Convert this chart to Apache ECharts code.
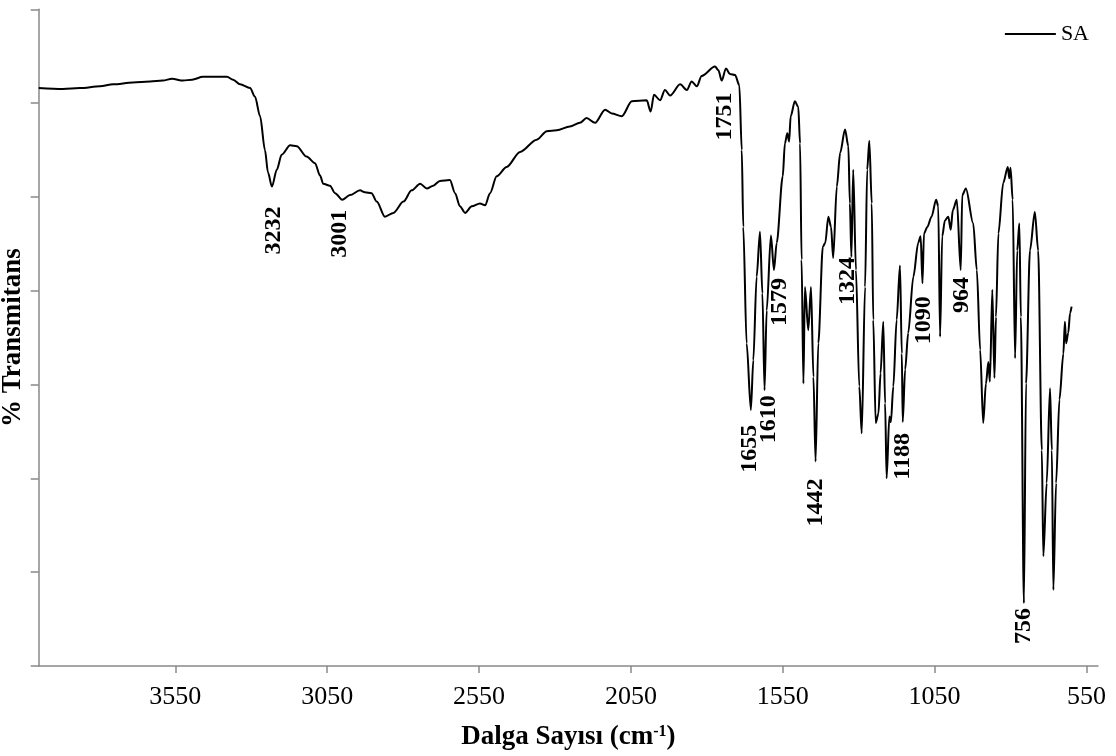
<!DOCTYPE html>
<html>
<head>
<meta charset="utf-8">
<script src="https://cdn.jsdelivr.net/npm/echarts@6/dist/echarts.min.js"></script>
<style>
  html, body { margin: 0; padding: 0; background: #ffffff; }
  #chart { width: 1116px; height: 756px; }
</style>
</head>
<body>
<div id="chart"></div>
<script>
// FTIR spectrum of sample SA: wavenumber (cm-1) and % transmittance
const wavenumbers = [
  4000, 3920, 3864, 3798, 3755, 3690, 3633, 3591, 3561, 3525, 3495, 3459, 3380, 3360, 3337, 3304,
  3288, 3271, 3255, 3245, 3232, 3216, 3200, 3172, 3150, 3118, 3090, 3074, 3063, 3041, 3024, 3001,
  2975, 2942, 2926, 2904, 2887, 2860, 2832, 2799, 2772, 2744, 2722, 2701, 2679, 2646, 2629, 2613,
  2596, 2574, 2547, 2530, 2514, 2492, 2459, 2415, 2360, 2327, 2294, 2251, 2218, 2196, 2168, 2135,
  2113, 2080, 2047, 1998, 1985, 1974, 1954, 1938, 1921, 1888, 1866, 1850, 1833, 1817, 1773, 1762,
  1751, 1737, 1724, 1707, 1693, 1685, 1680, 1669, 1655, 1647, 1636, 1625, 1617, 1610, 1603, 1589,
  1579, 1570, 1550, 1543, 1535, 1529, 1524, 1510, 1499, 1493, 1488, 1482, 1477, 1466, 1457, 1449,
  1442, 1433, 1418, 1410, 1400, 1391, 1384, 1372, 1361, 1345, 1334, 1329, 1324, 1318, 1309, 1298,
  1290, 1279, 1272, 1265, 1257, 1252, 1244, 1235, 1228, 1219, 1213, 1208, 1199, 1194, 1186, 1175,
  1164, 1158, 1155, 1147, 1137, 1120, 1104, 1096, 1090, 1085, 1074, 1060, 1045, 1038, 1032, 1025,
  1016, 1005, 997, 990, 977, 964, 959, 947, 923, 911, 900, 890, 881, 873, 868, 860,
  853, 848, 840, 824, 809, 804, 800, 793, 785, 778, 771, 766, 756, 749, 736, 720,
  709, 697, 692, 681, 670, 664, 659, 650, 639, 626, 621, 617, 610, 604, 599
];
const transmittance = [
  61.6, 61.5, 61.6, 61.8, 62.0, 62.2, 62.3, 62.4, 62.6, 62.4, 62.5, 62.8, 62.8, 62.5, 62.0, 61.6,
  60.7, 58.6, 55.0, 52.6, 51.1, 52.9, 54.5, 55.5, 55.4, 54.3, 53.6, 52.3, 51.4, 51.2, 50.4, 49.7,
  50.2, 50.7, 50.5, 50.4, 49.5, 47.9, 48.3, 49.5, 50.7, 51.4, 50.9, 51.2, 51.7, 51.8, 50.4, 49.0,
  48.3, 49.0, 49.3, 49.1, 50.4, 52.2, 53.2, 54.8, 56.1, 57.0, 57.1, 57.5, 57.9, 58.4, 57.9, 59.3,
  58.9, 58.6, 60.2, 60.3, 59.1, 60.9, 60.3, 61.4, 60.8, 62.0, 61.4, 62.3, 61.8, 62.9, 63.9, 63.5,
  62.4, 63.7, 63.1, 63.0, 61.9, 55.0, 46.8, 34.4, 27.3, 32.6, 41.5, 46.3, 39.7, 29.4, 37.9, 45.9,
  42.2, 45.1, 52.2, 55.7, 56.8, 55.9, 58.6, 60.2, 59.6, 55.7, 43.3, 30.1, 40.4, 35.8, 40.4, 30.8,
  21.8, 34.4, 44.7, 45.1, 47.9, 46.8, 43.5, 51.1, 54.7, 57.2, 55.4, 49.3, 43.6, 52.9, 42.2, 29.8,
  24.8, 40.4, 52.9, 56.0, 49.3, 36.9, 25.9, 26.9, 31.2, 36.7, 28.0, 20.0, 26.6, 26.0, 29.8, 36.9,
  42.7, 33.3, 26.0, 31.6, 35.5, 41.5, 45.1, 45.8, 40.8, 46.1, 46.8, 47.9, 49.7, 49.0, 35.1, 45.8,
  47.5, 47.9, 46.5, 48.6, 49.7, 42.2, 50.2, 50.9, 47.2, 42.2, 33.7, 25.9, 30.1, 32.4, 30.3, 40.1,
  30.7, 37.2, 46.1, 51.5, 53.2, 52.0, 53.1, 49.7, 32.8, 44.3, 47.2, 37.2, 6.7, 30.1, 44.3, 48.4,
  44.3, 23.0, 11.7, 19.5, 29.6, 23.0, 8.1, 19.5, 28.4, 33.3, 36.7, 34.4, 35.5, 37.6, 38.3
];

// Assigned bands and the transmittance level each label hangs from
const peakWavenumbers = [3232, 3001, 1751, 1655, 1610, 1579, 1442, 1324, 1188, 1090, 964, 756];
const peakLevels      = [51.1, 49.7, 62.4, 27.3, 29.4, 42.2, 21.8, 43.6, 26.0, 40.8, 42.2, 6.7];

const xTickValues = [3550, 3050, 2550, 2050, 1550, 1050, 550];

// Pixel nudges for the band labels: [dx, gap below the anchor]
const labelNudge = [[1.5, 20], [-2, 10], [3, 12], [-1, 15], [4, 5], [6, 8],
                    [0, 17], [-4, 0], [10.6, 11], [1, 13], [1, 7], [0, 5]];

const serif = '"Liberation Serif", "Times New Roman", Times, serif';
const axisGrey = '#898989';

const spectrum = wavenumbers.map((w, i) => [w, transmittance[i]]);
const bandMarks = peakWavenumbers.map((w, i) => ({
  value: [w, peakLevels[i]],
  label: { position: labelNudge[i] }
}));

const chart = echarts.init(document.getElementById('chart'), null, { renderer: 'canvas' });
chart.setOption({
  animation: false,
  backgroundColor: '#ffffff',
  grid: { left: 38.7, right: 18, top: 9.3, bottom: 90, containLabel: false, outerBoundsMode: 'none' },
  legend: {
    data: ['SA'],
    right: 22,
    top: 18,
    icon: 'rect',
    itemWidth: 51,
    itemHeight: 2,
    itemGap: 6,
    textStyle: { fontFamily: serif, fontSize: 22, color: '#000' }
  },
  xAxis: {
    type: 'value',
    inverse: true,
    min: 512,
    max: 4000,
    name: '{t|Dalga Sayısı (cm}{s|-1}{t|)}',
    nameLocation: 'middle',
    nameGap: 58,
    nameTextStyle: {
      rich: {
        t: { fontFamily: serif, fontWeight: 'bold', fontSize: 27, color: '#000' },
        s: { fontFamily: serif, fontWeight: 'bold', fontSize: 16, color: '#000', verticalAlign: 'top', lineHeight: 27 }
      }
    },
    axisLine: { onZero: false, lineStyle: { color: axisGrey, width: 1.5 } },
    axisTick: { customValues: xTickValues, length: 7, lineStyle: { color: axisGrey, width: 1.5 } },
    axisLabel: {
      customValues: xTickValues,
      formatter: v => String(v),
      margin: 18,
      fontFamily: serif,
      fontSize: 26,
      color: '#000'
    },
    splitLine: { show: false }
  },
  yAxis: {
    type: 'value',
    min: 0,
    max: 70,
    interval: 10,
    name: '% Transmitans',
    nameLocation: 'middle',
    nameGap: 12,
    nameRotate: 90,
    nameTextStyle: { fontFamily: serif, fontWeight: 'bold', fontSize: 27, color: '#000' },
    axisLine: { show: true, lineStyle: { color: axisGrey, width: 1.5 } },
    axisTick: { show: true, length: 8, lineStyle: { color: axisGrey, width: 1.5 } },
    axisLabel: { show: false },
    splitLine: { show: false }
  },
  series: [
    {
      name: 'SA',
      type: 'line',
      data: spectrum,
      symbol: 'none',
      showSymbol: false,
      smooth: 0.3,
      smoothMonotone: 'x',
      lineStyle: { color: '#000', width: 2 },
      itemStyle: { color: '#000' },
      z: 2
    },
    {
      type: 'scatter',
      data: bandMarks,
      symbolSize: 0.1,
      itemStyle: { color: 'rgba(0,0,0,0)', opacity: 1 },
      silent: true,
      label: {
        show: true,
        formatter: p => String(p.value[0]),
        rotate: 90,
        align: 'right',
        verticalAlign: 'middle',
        fontFamily: serif,
        fontWeight: 'bold',
        fontSize: 24,
        color: '#000',
        opacity: 1
      },
      z: 3
    }
  ]
});
</script>
</body>
</html>
